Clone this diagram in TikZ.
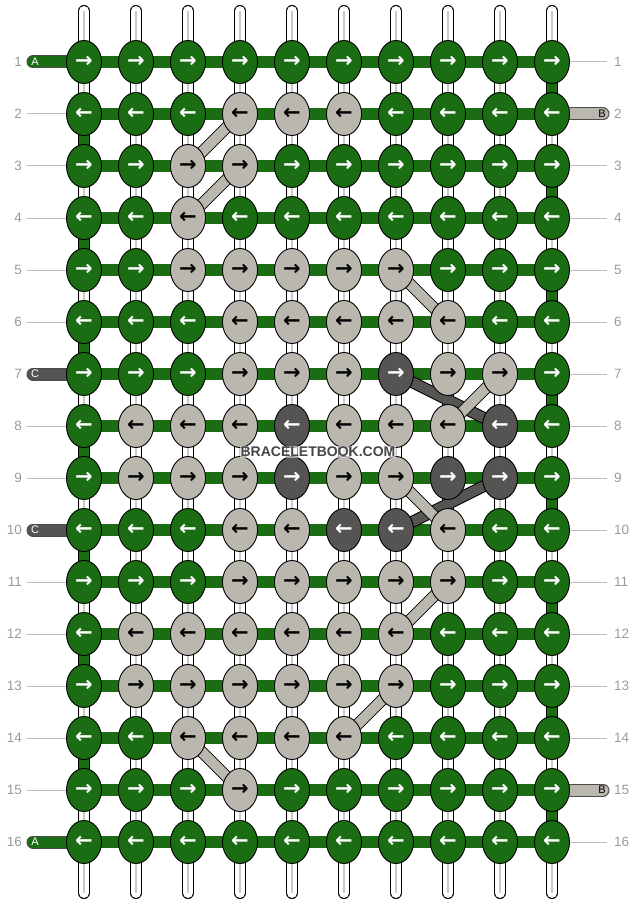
\documentclass[tikz,border=0pt]{standalone}
\usepackage{fontspec}
\setmainfont{Liberation Sans}
\newfontfamily\arrowfont{DejaVu Sans}
\usetikzlibrary{shapes.geometric}
\definecolor{knotgreen}{HTML}{1B6D14}
\definecolor{knotlight}{HTML}{BAB7AF}
\definecolor{knotdark}{HTML}{555452}
\definecolor{labelgray}{HTML}{9A9A9A}
\definecolor{guidegray}{HTML}{BDBDBD}
\definecolor{rodgray}{HTML}{C8C8C8}
\tikzset{
  knot/.style={ellipse, draw=black, line width=0.9pt, minimum width=35pt, minimum height=43pt,
    inner sep=0pt, font=\arrowfont\bfseries\fontsize{21}{21}\selectfont},
  knotG/.style={knot, fill=knotgreen, text=white},
  knotL/.style={knot, fill=knotlight, text=black},
  knotD/.style={knot, fill=knotdark, text=white},
  rodedge/.style={line width=12pt, line cap=round, black},
  rodfill/.style={line width=10pt, line cap=round, white},
  rodcore/.style={line width=1.2pt, rodgray},
  hbar/.style={line width=12pt, knotgreen},
  turnbar/.style={line width=10pt, knotgreen},
  diagedge/.style={line width=12pt, black},
  diagfill/.style={line width=10pt},
  startedge/.style={line width=13pt, line cap=round, black!70},
  startfill/.style={line width=11pt, line cap=round},
  starttag/.style={inner sep=0pt, font=\fontsize{11}{11}\selectfont},
  rowlabel/.style={inner sep=0pt, text=labelgray, font=\fontsize{13.5}{13.5}\selectfont},
  guide/.style={line width=1pt, guidegray},
  watermark/.style={fill=white, fill opacity=0.55, text opacity=1, text=black!72,
    inner sep=1pt, font=\bfseries\fontsize{14}{14}\selectfont}
}
\begin{document}
\begin{tikzpicture}[x=1pt, y=-1pt]
\useasboundingbox (0,0) rectangle (636,904);
\foreach \row in {1,...,16}
  \foreach \col in {1,...,10}
    \coordinate (p\row-\col) at ({52*\col+32},{52*\row+10});

\foreach \col in {1,...,10}{
  \coordinate (top\col) at ({52*\col+32},11);
  \coordinate (bot\col) at ({52*\col+32},893);
  \draw[rodedge] (top\col) -- (bot\col);
  \draw[rodfill] (top\col) -- (bot\col);
  \draw[rodcore] (top\col) -- (bot\col);
}

\foreach \row [evaluate=\row as \nxt using int(\row+1)] in {1,3,...,15}
  \draw[turnbar] (p\row-10) -- (p\nxt-10);
\foreach \row [evaluate=\row as \nxt using int(\row+1)] in {2,4,...,14}
  \draw[turnbar] (p\row-1) -- (p\nxt-1);

\foreach \row in {1,...,16}
  \draw[hbar] (p\row-1) -- (p\row-10);

\foreach \ra/\ca/\rb/\cb in {7/7/8/9, 9/9/10/7}{
  \draw[diagedge] (p\ra-\ca) -- (p\rb-\cb);
  \draw[diagfill, knotdark] (p\ra-\ca) -- (p\rb-\cb);
}
\foreach \ra/\ca/\rb/\cb in {2/4/3/3, 3/4/4/3, 5/7/6/8, 7/9/8/8, 9/7/10/8, 11/8/12/7, 13/7/14/6, 14/3/15/4}{
  \draw[diagedge] (p\ra-\ca) -- (p\rb-\cb);
  \draw[diagfill, knotlight] (p\ra-\ca) -- (p\rb-\cb);
}

\foreach \row/\tag/\clr in {1/A/knotgreen, 7/C/knotdark, 10/C/knotdark, 16/A/knotgreen}{
  \coordinate (s\row) at (33,{52*\row+10});
  \draw[startedge] (s\row) -- (p\row-1);
  \draw[startfill, \clr] (s\row) -- (p\row-1);
  \node[starttag, text=white] (t\row) at (35,{52*\row+10}) {\tag};
}
\foreach \row in {2,15}{
  \coordinate (s\row) at (603,{52*\row+10});
  \draw[startedge] (s\row) -- (p\row-10);
  \draw[startfill, knotlight] (s\row) -- (p\row-10);
  \node[starttag, text=black] (t\row) at (602,{52*\row+10}) {B};
}

\foreach \row in {1,...,16}{
  \node[rowlabel, anchor=east] (ll\row) at (22,{52*\row+10}) {\row};
  \node[rowlabel, anchor=west] (rl\row) at (614,{52*\row+10}) {\row};
}
\foreach \row in {2,...,6,8,9,11,12,...,15}
  \draw[guide] ([xshift=5pt]ll\row.east) -- (p\row-1);
\foreach \row in {1,3,4,...,14,16}
  \draw[guide] (p\row-10) -- ([xshift=-7pt]rl\row.west);

\foreach \row/\arr/\cols in {
  1/→/{G,G,G,G,G,G,G,G,G,G},
  2/←/{G,G,G,L,L,L,G,G,G,G},
  3/→/{G,G,L,L,G,G,G,G,G,G},
  4/←/{G,G,L,G,G,G,G,G,G,G},
  5/→/{G,G,L,L,L,L,L,G,G,G},
  6/←/{G,G,G,L,L,L,L,L,G,G},
  7/→/{G,G,G,L,L,L,D,L,L,G},
  8/←/{G,L,L,L,D,L,L,L,D,G},
  9/→/{G,L,L,L,D,L,L,D,D,G},
  10/←/{G,G,G,L,L,D,D,L,G,G},
  11/→/{G,G,G,L,L,L,L,L,G,G},
  12/←/{G,L,L,L,L,L,L,G,G,G},
  13/→/{G,L,L,L,L,L,L,G,G,G},
  14/←/{G,G,L,L,L,L,G,G,G,G},
  15/→/{G,G,G,L,G,G,G,G,G,G},
  16/←/{G,G,G,G,G,G,G,G,G,G}}
  \foreach \kc [count=\col] in \cols
    \node[knot\kc] (k\row-\col) at (p\row-\col) {\arr};

\node[watermark] (wm) at (318,452) {BRACELETBOOK.COM};
\end{tikzpicture}
\end{document}
